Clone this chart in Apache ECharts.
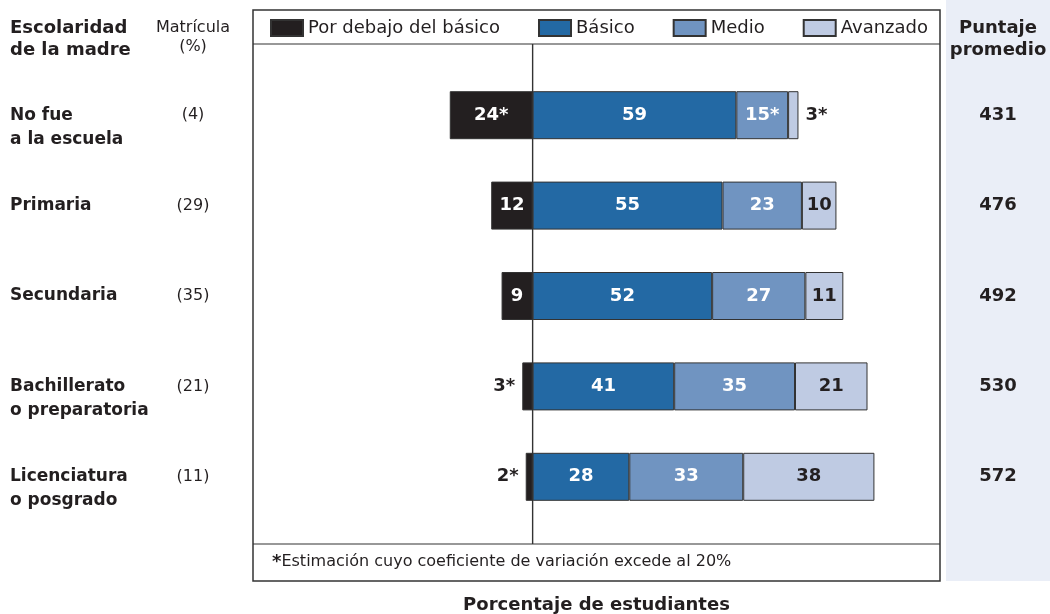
<!DOCTYPE html>
<html>
<head>
<meta charset="utf-8">
<script src="https://cdn.jsdelivr.net/npm/echarts@6/dist/echarts.min.js"></script>
<style>
html,body{margin:0;padding:0;background:#fff;}
#chart{width:1050px;height:614px;}
</style>
</head>
<body>
<div id="chart"></div>
<script>
// datos del gráfico
var categorias = ['No fue\na la escuela', 'Primaria', 'Secundaria', 'Bachillerato\no preparatoria', 'Licenciatura\no posgrado'];
var matricula = ['(4)', '(29)', '(35)', '(21)', '(11)'];
var puntaje = ['431', '476', '492', '530', '572'];
var debajoBasico = [24, 12, 9, 3, 2];
var basico = [59, 55, 52, 41, 28];
var medio = [15, 23, 27, 35, 33];
var avanzado = [3, 10, 11, 21, 38];
//estimaciones con coeficiente de variación > 20% (llevan *)
var estDebajo = [true, false, false, true, true];
var estBasico = [false, false, false, false, false];
var estMedio = [true, false, false, false, false];
var estAvanzado = [true, false, false, false, false];

var fuente = 'DejaVu Sans';
var oscuro = '#231f20';

//arma los datos de cada serie; los segmentos muy cortos llevan la etiqueta afuera
function armarDatos(valores, signo) {
  var out = [];
  for (var i = 0; i < valores.length; i++) {
    var item = { value: signo * valores[i] };
    if (valores[i] < 5) {
      item.label = { position: signo < 0 ? 'left' : 'right', color: oscuro, distance: 7 };
    }
    out.push(item);
  }
  return out;
}

function serie(nombre, valores, signo, estimado, color, colorTexto) {
  return {
    name: nombre,
    type: 'bar',
    stack: 'total',
    barWidth: 48,
    itemStyle: { color: color, borderColor: '#333', borderWidth: 1 },
    label: {
      show: true,
      position: 'inside',
      color: colorTexto,
      fontFamily: fuente,
      fontWeight: 'bold',
      fontSize: 18,
      formatter: function (p) {
        return Math.abs(p.value) + (estimado[p.dataIndex] ? '*' : '');
      }
    },
    data: armarDatos(valores, signo)
  };
}

var myChart = echarts.init(document.getElementById('chart'));
var option = {
  animation: false,
  title: [
    {
      text: 'Escolaridad\nde la madre', left: 10, top: 17, padding: 0,
      textStyle: { fontFamily: fuente, fontWeight: 'bold', fontSize: 18, lineHeight: 22, color: oscuro }
    },
    {
      text: 'Matrícula\n(%)', left: 193, top: 18, padding: 0, textAlign: 'center',
      textStyle: { fontFamily: fuente, fontWeight: 'normal', fontSize: 16, lineHeight: 19, color: oscuro }
    },
    {
      text: 'Puntaje\npromedio', left: 998, top: 17, padding: 0, textAlign: 'center',
      textStyle: { fontFamily: fuente, fontWeight: 'bold', fontSize: 18, lineHeight: 22, color: oscuro }
    }
  ],
  legend: {
    left: 270,
    top: 19,
    padding: 0,
    icon: 'rect',
    itemWidth: 32,
    itemHeight: 16,
    itemGap: 38,
    textStyle: { fontFamily: fuente, fontSize: 18, color: oscuro },
    data: ['Por debajo del básico', 'Básico', 'Medio', 'Avanzado']
  },
  grid: { left: 253, right: 110, top: 70, bottom: 92, outerBoundsMode: 'none' },
  xAxis: {
    type: 'value',
    min: -81,
    max: 118,
    axisLine: { show: false },
    axisTick: { show: false },
    axisLabel: { show: false },
    splitLine: { show: false },
    name: 'Porcentaje de estudiantes',
    nameLocation: 'middle',
    nameGap: 74,
    nameTextStyle: { fontFamily: fuente, fontWeight: 'bold', fontSize: 18, color: oscuro }
  },
  yAxis: [
    {
      type: 'category',
      inverse: true,
      data: categorias,
      axisLine: { show: false },
      axisTick: { show: false },
      axisLabel: {
        align: 'left',
        margin: 243,
        fontFamily: fuente,
        fontWeight: 'bold',
        fontSize: 17,
        lineHeight: 24,
        color: oscuro,
        formatter: function (v) {
          //la primera línea queda a la altura de la barra
          return v.indexOf('\n') >= 0 ? '\n' + v : v;
        }
      }
    },
    {
      type: 'category',
      inverse: true,
      position: 'left',
      data: matricula,
      axisLine: { show: false },
      axisTick: { show: false },
      axisLabel: { align: 'center', margin: 60, fontFamily: fuente, fontSize: 16, color: oscuro }
    },
    {
      type: 'category',
      inverse: true,
      position: 'right',
      data: puntaje,
      axisLine: { show: false },
      axisTick: { show: false },
      axisLabel: { align: 'center', margin: 58, fontFamily: fuente, fontWeight: 'bold', fontSize: 18, color: oscuro }
    }
  ],
  graphic: [
    { id: 'fondo', type: 'rect', z: -10, shape: { x: 946, y: 0, width: 104, height: 581 }, style: { fill: '#eaeef7' } },
    { id: 'marco', type: 'rect', shape: { x: 253, y: 10, width: 687, height: 571 }, style: { fill: 'none', stroke: '#333', lineWidth: 1.5 } },
    { id: 'sepLeyenda', type: 'line', shape: { x1: 253, y1: 44, x2: 940, y2: 44 }, style: { stroke: '#333', lineWidth: 1.2 } },
    { id: 'sepNota', type: 'line', shape: { x1: 253, y1: 544, x2: 940, y2: 544 }, style: { stroke: '#333', lineWidth: 1.2 } },
    {
      id: 'nota', type: 'text', x: 272, y: 562,
      style: {
        text: '{a|*}Estimación cuyo coeficiente de variación excede al 20%',
        fontFamily: fuente, fontSize: 16, fill: oscuro, verticalAlign: 'middle',
        rich: { a: { fontFamily: fuente, fontWeight: 'bold', fontSize: 18, fill: oscuro } }
      }
    }
  ],
  series: [
    serie('Por debajo del básico', debajoBasico, -1, estDebajo, oscuro, '#fff'),
    serie('Básico', basico, 1, estBasico, '#2369a4', '#fff'),
    serie('Medio', medio, 1, estMedio, '#7094c1', '#fff'),
    serie('Avanzado', avanzado, 1, estAvanzado, '#bfcbe3', oscuro)
  ]
};
myChart.setOption(option);

//línea vertical del cero
var x0 = myChart.convertToPixel({ xAxisIndex: 0 }, 0);
myChart.setOption({
  graphic: [
    { id: 'cero', type: 'line', shape: { x1: x0, y1: 44, x2: x0, y2: 544 }, style: { stroke: '#333', lineWidth: 1.4 } }
  ]
});
</script>
</body>
</html>
